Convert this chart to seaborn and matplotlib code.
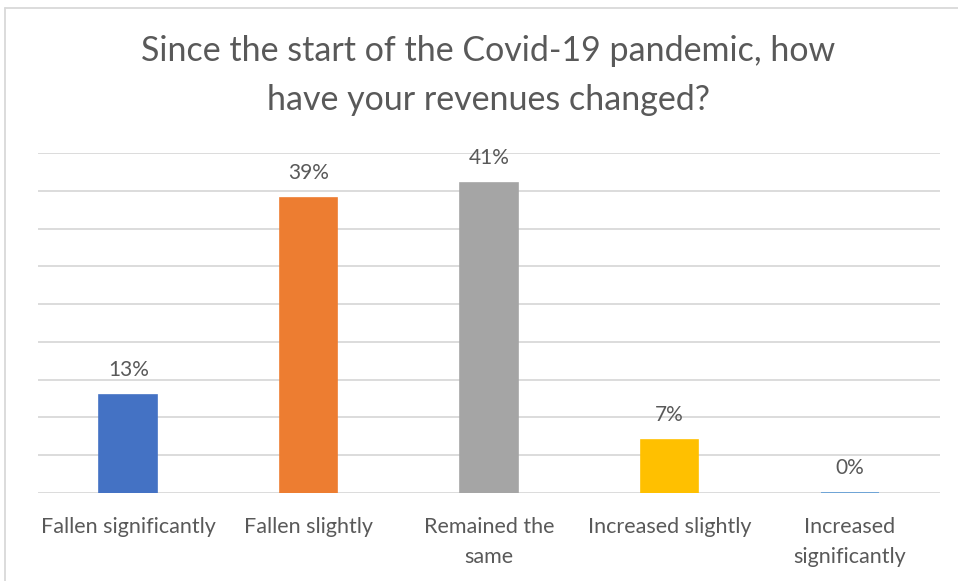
import matplotlib
matplotlib.use("Agg")
import matplotlib.pyplot as plt
from matplotlib.lines import Line2D
import seaborn as sns
import pandas as pd

categories = ["Fallen significantly", "Fallen slightly", "Remained the\nsame",
              "Increased slightly", "Increased\nsignificantly"]
values = [13, 39, 41, 7, 0]
bar_colors = ["#4472C4", "#ED7D31", "#A5A5A5", "#FFC000", "#5B9BD5"]
title = "Since the start of the Covid-19 pandemic, how\nhave your revenues changed?"

sns.set_theme(style="white")
plt.rcParams["font.family"] = ["Lato", "DejaVu Sans"]
text_color = "#595959"

df = pd.DataFrame({"category": categories, "value": values})

fig = plt.figure(figsize=(9.58, 5.81), dpi=100)
ax = fig.add_axes([0.0397, 0.1515, 0.9415, 0.5852])

sns.barplot(data=df, x="category", y="value", hue="category",
            palette=bar_colors, legend=False, width=0.32, ax=ax,
            saturation=1)

for patch, col in zip(ax.patches, bar_colors):
    patch.set_edgecolor(col)
    patch.set_linewidth(1.2)
    patch.set_zorder(3)

ax.set_ylim(0, 45)
ax.set_yticks(range(0, 46, 5))
ax.yaxis.grid(True, color="#D9D9D9", linewidth=1.3, zorder=0)
ax.set_axisbelow(True)
ax.tick_params(axis="y", left=False, labelleft=False)
ax.tick_params(axis="x", bottom=False, labelsize=15.5, colors=text_color, pad=11)
for lbl in ax.get_xticklabels():
    lbl.set_linespacing(1.65)
for s in ax.spines.values():
    s.set_visible(False)
ax.set_xlabel("")
ax.set_ylabel("")

for i, v in enumerate(values):
    ax.annotate(f"{v}%", xy=(i, v), xytext=(0, 25), textcoords="offset pixels",
                ha="center", va="center", fontsize=15, color=text_color)

fig.text(0.510, 0.870, title, ha="center", va="center", fontsize=24.5,
         color=text_color, linespacing=1.62)

# outer frame edges of the chart area
fig.add_artist(Line2D([5 / 958, 1], [1 - 8 / 581, 1 - 8 / 581],
                      transform=fig.transFigure, color="#D9D9D9", linewidth=1.3))
fig.add_artist(Line2D([5 / 958, 5 / 958], [0, 1 - 8 / 581],
                      transform=fig.transFigure, color="#D9D9D9", linewidth=1.3))

fig.savefig("out.png", dpi=100, facecolor="white")
